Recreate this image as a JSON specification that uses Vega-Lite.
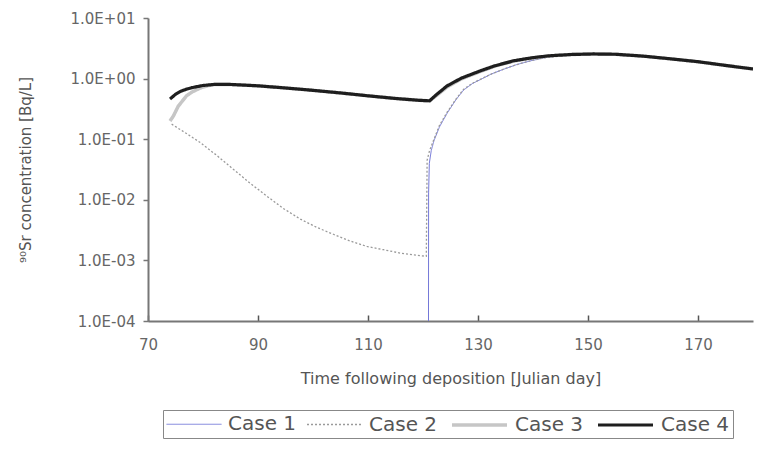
{
  "$schema": "https://vega.github.io/schema/vega-lite/v6.json",
  "width": 605,
  "height": 303,
  "autosize": {"type": "none"},
  "padding": {"left": 148, "top": 18, "right": 11, "bottom": 129},
  "background": "white",
  "config": {
    "view": {"stroke": null},
    "font": "DejaVu Sans"
  },
  "data": {
    "values": [
      {"day": 121.0, "v": 0.0001, "case": "Case 1"},
      {"day": 121.02, "v": 0.013, "case": "Case 1"},
      {"day": 121.15, "v": 0.04, "case": "Case 1"},
      {"day": 121.5, "v": 0.065, "case": "Case 1"},
      {"day": 122, "v": 0.095, "case": "Case 1"},
      {"day": 123, "v": 0.16, "case": "Case 1"},
      {"day": 124.4, "v": 0.27, "case": "Case 1"},
      {"day": 126, "v": 0.45, "case": "Case 1"},
      {"day": 127.4, "v": 0.65, "case": "Case 1"},
      {"day": 129, "v": 0.83, "case": "Case 1"},
      {"day": 130.5, "v": 0.97, "case": "Case 1"},
      {"day": 132.5, "v": 1.2, "case": "Case 1"},
      {"day": 134.7, "v": 1.43, "case": "Case 1"},
      {"day": 137, "v": 1.7, "case": "Case 1"},
      {"day": 139.6, "v": 1.97, "case": "Case 1"},
      {"day": 142, "v": 2.2, "case": "Case 1"},
      {"day": 145, "v": 2.4, "case": "Case 1"},
      {"day": 147, "v": 2.5, "case": "Case 1"},
      {"day": 151, "v": 2.55, "case": "Case 1"},
      {"day": 155, "v": 2.52, "case": "Case 1"},
      {"day": 160, "v": 2.35, "case": "Case 1"},
      {"day": 165, "v": 2.12, "case": "Case 1"},
      {"day": 170, "v": 1.9, "case": "Case 1"},
      {"day": 175, "v": 1.65, "case": "Case 1"},
      {"day": 180, "v": 1.44, "case": "Case 1"},

      {"day": 74.3, "v": 0.177, "case": "Case 2"},
      {"day": 77, "v": 0.124, "case": "Case 2"},
      {"day": 79.5, "v": 0.088, "case": "Case 2"},
      {"day": 82.5, "v": 0.054, "case": "Case 2"},
      {"day": 85.5, "v": 0.032, "case": "Case 2"},
      {"day": 88.5, "v": 0.019, "case": "Case 2"},
      {"day": 91.6, "v": 0.0115, "case": "Case 2"},
      {"day": 94.6, "v": 0.0072, "case": "Case 2"},
      {"day": 97.7, "v": 0.0048, "case": "Case 2"},
      {"day": 100.7, "v": 0.0035, "case": "Case 2"},
      {"day": 103.7, "v": 0.0027, "case": "Case 2"},
      {"day": 106.7, "v": 0.0021, "case": "Case 2"},
      {"day": 109.8, "v": 0.0017, "case": "Case 2"},
      {"day": 112.8, "v": 0.0015, "case": "Case 2"},
      {"day": 115.9, "v": 0.00132, "case": "Case 2"},
      {"day": 118, "v": 0.00124, "case": "Case 2"},
      {"day": 120.6, "v": 0.00117, "case": "Case 2"},
      {"day": 120.75, "v": 0.045, "case": "Case 2"},
      {"day": 121.2, "v": 0.065, "case": "Case 2"},
      {"day": 122, "v": 0.1, "case": "Case 2"},
      {"day": 123, "v": 0.17, "case": "Case 2"},
      {"day": 124.4, "v": 0.28, "case": "Case 2"},
      {"day": 126, "v": 0.46, "case": "Case 2"},
      {"day": 127.4, "v": 0.67, "case": "Case 2"},
      {"day": 129, "v": 0.84, "case": "Case 2"},
      {"day": 130.5, "v": 0.98, "case": "Case 2"},
      {"day": 132.5, "v": 1.2, "case": "Case 2"},
      {"day": 134.7, "v": 1.44, "case": "Case 2"},
      {"day": 137, "v": 1.7, "case": "Case 2"},
      {"day": 139.6, "v": 1.97, "case": "Case 2"},
      {"day": 142, "v": 2.2, "case": "Case 2"},
      {"day": 145, "v": 2.4, "case": "Case 2"},
      {"day": 147, "v": 2.5, "case": "Case 2"},
      {"day": 151, "v": 2.55, "case": "Case 2"},
      {"day": 155, "v": 2.52, "case": "Case 2"},
      {"day": 160, "v": 2.35, "case": "Case 2"},
      {"day": 165, "v": 2.12, "case": "Case 2"},
      {"day": 170, "v": 1.9, "case": "Case 2"},
      {"day": 175, "v": 1.65, "case": "Case 2"},
      {"day": 180, "v": 1.44, "case": "Case 2"},

      {"day": 74, "v": 0.2, "case": "Case 3"},
      {"day": 74.6, "v": 0.24, "case": "Case 3"},
      {"day": 75.5, "v": 0.35, "case": "Case 3"},
      {"day": 77, "v": 0.52, "case": "Case 3"},
      {"day": 78, "v": 0.6, "case": "Case 3"},
      {"day": 79.5, "v": 0.7, "case": "Case 3"},
      {"day": 81, "v": 0.77, "case": "Case 3"},
      {"day": 82, "v": 0.8, "case": "Case 3"},
      {"day": 85, "v": 0.8, "case": "Case 3"},
      {"day": 90, "v": 0.76, "case": "Case 3"},
      {"day": 95, "v": 0.7, "case": "Case 3"},
      {"day": 100, "v": 0.64, "case": "Case 3"},
      {"day": 105, "v": 0.58, "case": "Case 3"},
      {"day": 110, "v": 0.52, "case": "Case 3"},
      {"day": 115, "v": 0.47, "case": "Case 3"},
      {"day": 119, "v": 0.44, "case": "Case 3"},
      {"day": 121.2, "v": 0.43, "case": "Case 3"},
      {"day": 122.5, "v": 0.53, "case": "Case 3"},
      {"day": 124.4, "v": 0.73, "case": "Case 3"},
      {"day": 127, "v": 0.99, "case": "Case 3"},
      {"day": 130.5, "v": 1.32, "case": "Case 3"},
      {"day": 133, "v": 1.6, "case": "Case 3"},
      {"day": 136.5, "v": 1.95, "case": "Case 3"},
      {"day": 140, "v": 2.2, "case": "Case 3"},
      {"day": 143, "v": 2.37, "case": "Case 3"},
      {"day": 147, "v": 2.5, "case": "Case 3"},
      {"day": 151, "v": 2.55, "case": "Case 3"},
      {"day": 155, "v": 2.52, "case": "Case 3"},
      {"day": 160, "v": 2.35, "case": "Case 3"},
      {"day": 165, "v": 2.12, "case": "Case 3"},
      {"day": 170, "v": 1.9, "case": "Case 3"},
      {"day": 175, "v": 1.65, "case": "Case 3"},
      {"day": 180, "v": 1.44, "case": "Case 3"},

      {"day": 74, "v": 0.46, "case": "Case 4"},
      {"day": 75, "v": 0.55, "case": "Case 4"},
      {"day": 76, "v": 0.62, "case": "Case 4"},
      {"day": 77, "v": 0.67, "case": "Case 4"},
      {"day": 78, "v": 0.71, "case": "Case 4"},
      {"day": 80, "v": 0.77, "case": "Case 4"},
      {"day": 82, "v": 0.8, "case": "Case 4"},
      {"day": 85, "v": 0.8, "case": "Case 4"},
      {"day": 90, "v": 0.76, "case": "Case 4"},
      {"day": 95, "v": 0.7, "case": "Case 4"},
      {"day": 100, "v": 0.64, "case": "Case 4"},
      {"day": 105, "v": 0.58, "case": "Case 4"},
      {"day": 110, "v": 0.52, "case": "Case 4"},
      {"day": 115, "v": 0.47, "case": "Case 4"},
      {"day": 119, "v": 0.44, "case": "Case 4"},
      {"day": 121.2, "v": 0.43, "case": "Case 4"},
      {"day": 122.5, "v": 0.55, "case": "Case 4"},
      {"day": 124.4, "v": 0.76, "case": "Case 4"},
      {"day": 127, "v": 1.02, "case": "Case 4"},
      {"day": 130.5, "v": 1.35, "case": "Case 4"},
      {"day": 133, "v": 1.62, "case": "Case 4"},
      {"day": 136.5, "v": 1.97, "case": "Case 4"},
      {"day": 140, "v": 2.22, "case": "Case 4"},
      {"day": 143, "v": 2.38, "case": "Case 4"},
      {"day": 147, "v": 2.5, "case": "Case 4"},
      {"day": 151, "v": 2.55, "case": "Case 4"},
      {"day": 155, "v": 2.52, "case": "Case 4"},
      {"day": 160, "v": 2.35, "case": "Case 4"},
      {"day": 165, "v": 2.12, "case": "Case 4"},
      {"day": 170, "v": 1.9, "case": "Case 4"},
      {"day": 175, "v": 1.65, "case": "Case 4"},
      {"day": 180, "v": 1.44, "case": "Case 4"}
    ]
  },
  "mark": {"type": "line", "clip": true, "strokeCap": "butt"},
  "encoding": {
    "x": {
      "field": "day",
      "type": "quantitative",
      "scale": {"domain": [70, 180], "nice": false, "zero": false},
      "axis": {
        "values": [70, 90, 110, 130, 150, 170],
        "title": "Time following deposition [Julian day]",
        "grid": false,
        "labelFlush": false,
        "domainColor": "#777",
        "domainWidth": 2,
        "tickColor": "#555",
        "tickWidth": 1.5,
        "tickSize": -6,
        "labelPadding": 22,
        "labelFontSize": 15,
        "labelColor": "#666",
        "labelFont": "DejaVu Sans",
        "titleFont": "DejaVu Sans",
        "titleFontSize": 16,
        "titleFontWeight": "normal",
        "titleColor": "#555",
        "titlePadding": 18
      }
    },
    "y": {
      "field": "v",
      "type": "quantitative",
      "scale": {"type": "log", "domain": [0.0001, 10], "nice": false},
      "axis": {
        "values": [0.0001, 0.001, 0.01, 0.1, 1, 10],
        "labelExpr": "'1.0E' + (datum.value >= 1 ? '+' : '-') + '0' + abs(round(log(datum.value) / LN10))",
        "title": "⁹⁰Sr concentration [Bq/L]",
        "grid": false,
        "labelFlush": false,
        "domainColor": "#777",
        "domainWidth": 2,
        "tickColor": "#777",
        "tickWidth": 1.5,
        "tickSize": 5,
        "labelPadding": 8,
        "labelFontSize": 15,
        "labelColor": "#666",
        "labelFont": "DejaVu Sans",
        "titleFont": "DejaVu Sans",
        "titleFontSize": 15,
        "titleFontWeight": "normal",
        "titleColor": "#555",
        "titlePadding": 37
      }
    },
    "color": {
      "field": "case",
      "type": "nominal",
      "scale": {"domain": ["Case 1", "Case 2", "Case 3", "Case 4"], "range": ["#7478d8", "#9a9a9a", "#c6c6c6", "#1e1e1e"]},
      "legend": {
        "title": null,
        "orient": "none",
        "legendX": 15,
        "legendY": 392,
        "direction": "horizontal",
        "symbolType": "M-2.75,0H2.75",
        "symbolSize": 400,
        "symbolOffset": 17.5,
        "labelFontSize": 20,
        "labelColor": "#555",
        "labelFont": "DejaVu Sans",
        "labelOffset": 23.5,
        "columnPadding": 7,
        "strokeColor": "#888",
        "padding": 3
      }
    },
    "strokeDash": {
      "field": "case",
      "type": "nominal",
      "scale": {"domain": ["Case 1", "Case 2", "Case 3", "Case 4"], "range": [[1, 0], [2, 2], [1, 0], [1, 0]]},
      "legend": {
        "title": null,
        "orient": "none",
        "legendX": 15,
        "legendY": 392,
        "direction": "horizontal",
        "symbolType": "M-2.75,0H2.75",
        "symbolSize": 400,
        "symbolOffset": 17.5,
        "labelFontSize": 20,
        "labelColor": "#555",
        "labelFont": "DejaVu Sans",
        "labelOffset": 23.5,
        "columnPadding": 7,
        "strokeColor": "#888",
        "padding": 3
      }
    },
    "strokeWidth": {
      "field": "case",
      "type": "nominal",
      "scale": {"type": "ordinal", "domain": ["Case 1", "Case 2", "Case 3", "Case 4"], "range": [1, 1.3, 3.5, 3.2]},
      "legend": {
        "title": null,
        "orient": "none",
        "legendX": 15,
        "legendY": 392,
        "direction": "horizontal",
        "symbolType": "M-2.75,0H2.75",
        "symbolSize": 400,
        "symbolOffset": 17.5,
        "labelFontSize": 20,
        "labelColor": "#555",
        "labelFont": "DejaVu Sans",
        "labelOffset": 23.5,
        "columnPadding": 7,
        "strokeColor": "#888",
        "padding": 3
      }
    }
  }
}
